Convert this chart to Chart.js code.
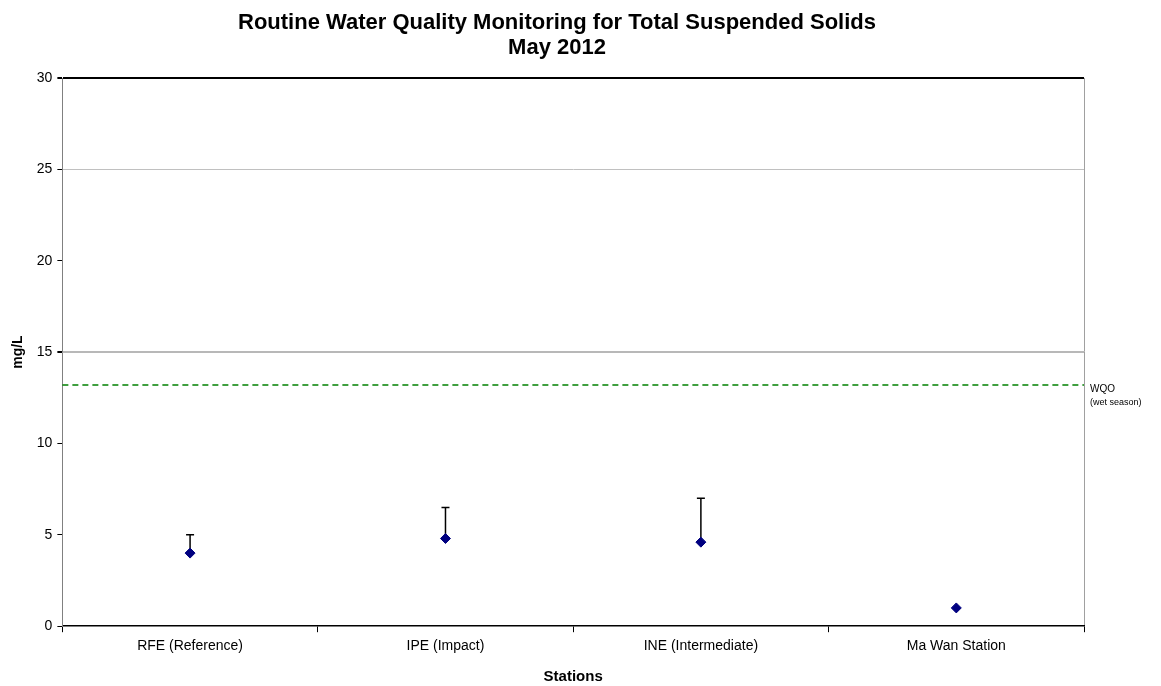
<!DOCTYPE html>
<html><head><meta charset="utf-8">
<script src="https://cdn.jsdelivr.net/npm/chart.js@4/dist/chart.umd.min.js"></script>
<style>html,body{margin:0;padding:0;background:#fff;} #wrap{width:1161px;height:686px;}</style>
</head><body><div id="wrap"><canvas id="c" width="1161" height="686"></canvas></div>
<script>
const stations = ['RFE (Reference)', 'IPE (Impact)', 'INE (Intermediate)', 'Ma Wan Station'];
const meanTSS = [4.0, 4.8, 4.6, 1.0];
const upperTSS = [5.0, 6.5, 7.0, null];
const wqoValue = 13.2;
const wqoLabel = ['WQO', '(wet season)'];
const titleLines = ['Routine Water Quality Monitoring for Total Suspended Solids', 'May 2012'];
const yAxisTitle = 'mg/L';
const xAxisTitle = 'Stations';

const FONT = '"Liberation Sans", Arial, Helvetica, sans-serif';
Chart.defaults.font.family = FONT;
Chart.defaults.color = '#000';

const extras = {
  id: 'extras',
  beforeDatasetsDraw(chart) {
    const {ctx, chartArea, scales: {x, y}} = chart;
    ctx.save();
    // WQO line
    const wy = y.getPixelForValue(wqoValue);
    ctx.strokeStyle = '#008000';
    ctx.lineWidth = 1.5;
    ctx.setLineDash([6, 4]);
    ctx.beginPath();
    ctx.moveTo(chartArea.left, wy);
    ctx.lineTo(chartArea.right, wy);
    ctx.stroke();
    ctx.setLineDash([]);
    // WQO label
    ctx.fillStyle = '#000';
    ctx.textAlign = 'left';
    ctx.textBaseline = 'middle';
    ctx.font = '10px ' + FONT;
    ctx.fillText(wqoLabel[0], chartArea.right + 6, wy + 4);
    ctx.font = '9px ' + FONT;
    ctx.fillText(wqoLabel[1], chartArea.right + 6, wy + 18);
    // error bars (upper only)
    ctx.strokeStyle = '#000';
    ctx.lineWidth = 1.5;
    upperTSS.forEach((u, i) => {
      if (u === null) return;
      const px = x.getPixelForValue(i);
      const p0 = y.getPixelForValue(meanTSS[i]);
      const p1 = y.getPixelForValue(u);
      ctx.beginPath();
      ctx.moveTo(px, p0);
      ctx.lineTo(px, p1);
      ctx.moveTo(px - 4, p1);
      ctx.lineTo(px + 4, p1);
      ctx.stroke();
    });
    ctx.restore();
  },
  afterDraw(chart) {
    const {ctx} = chart;
    ctx.save();
    ctx.fillStyle = '#000';
    ctx.textAlign = 'center';
    ctx.textBaseline = 'alphabetic';
    ctx.font = 'bold 22px ' + FONT;
    ctx.fillText(titleLines[0], 557, 29);
    ctx.fillText(titleLines[1], 557, 54);
    ctx.restore();
  }
};

new Chart(document.getElementById('c'), {
  type: 'line',
  data: {
    labels: stations,
    datasets: [{
      label: 'TSS',
      data: meanTSS,
      showLine: false,
      pointStyle: 'rectRot',
      pointRadius: 5,
      pointHoverRadius: 5,
      pointBackgroundColor: '#000080',
      pointBorderColor: '#000080',
      pointBorderWidth: 1
    }]
  },
  options: {
    responsive: false,
    animation: false,
    events: [],
    layout: {padding: {top: 78, right: 77, bottom: 0, left: 5}},
    plugins: {legend: {display: false}, title: {display: false}, tooltip: {enabled: false}},
    scales: {
      x: {
        type: 'category',
        offset: true,
        grid: {
          offset: true,
          drawOnChartArea: true,
          color: c => c.tick ? 'rgba(0,0,0,0)' : '#a0a0a0',
          tickColor: '#000',
          tickLength: 6,
          lineWidth: 1
        },
        border: {color: '#000', width: 1.5},
        ticks: {font: {size: 14}, padding: 6, color: '#000', maxRotation: 0},
        title: {display: true, text: xAxisTitle, font: {size: 15, weight: 'bold'}, padding: {top: 7, bottom: 0}, color: '#000'}
      },
      y: {
        min: 0, max: 30,
        ticks: {stepSize: 5, font: {size: 14}, padding: 5, color: '#000'},
        grid: {
          color: c => {
            const v = c.tick ? c.tick.value : null;
            if (v === 30) return '#000';
            if (v === 25) return '#c0c0c0';
            if (v === 15) return '#b8b8b8';
            return 'rgba(0,0,0,0)';
          },
          lineWidth: c => {
            const v = c.tick ? c.tick.value : null;
            if (v === 30) return 2;
            if (v === 15) return 2;
            return 1;
          },
          tickColor: '#000',
          tickLength: 5
        },
        border: {color: '#808080', width: 1},
        title: {display: true, text: yAxisTitle, font: {size: 14, weight: 'bold'}, padding: {top: 5, bottom: 5}, color: '#000'}
      }
    }
  },
  plugins: [extras]
});
</script>
</body></html>
